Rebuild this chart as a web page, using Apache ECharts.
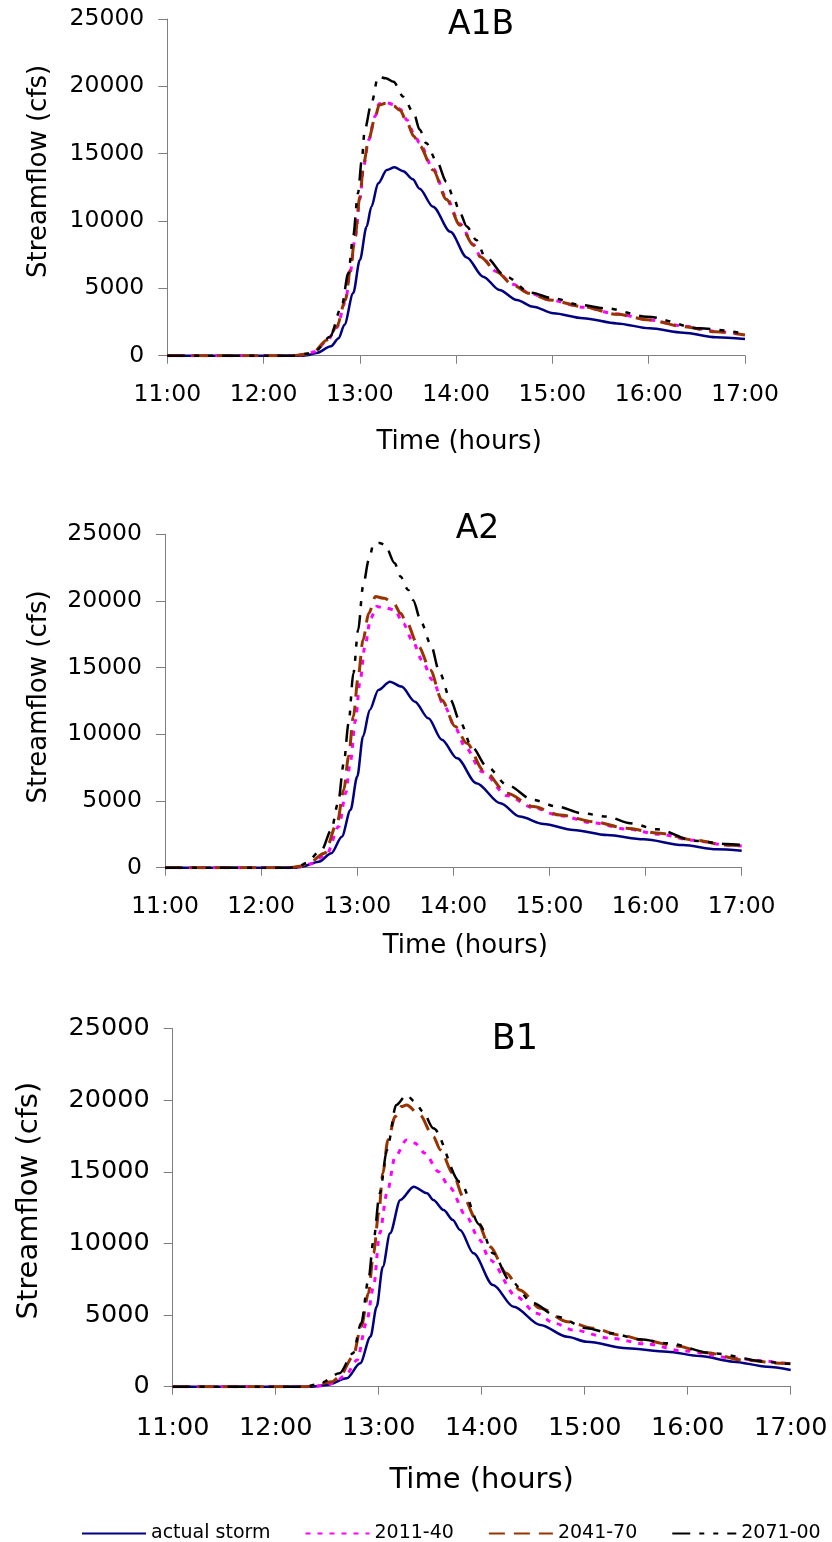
<!DOCTYPE html>
<html>
<head>
<meta charset="utf-8">
<script src="https://cdn.jsdelivr.net/npm/echarts@6/dist/echarts.min.js"></script>
<style>
html,body{margin:0;padding:0;background:#fff;}
#chart{width:832px;height:1542px;}
</style>
</head>
<body>
<div id="chart"></div>
<script>
// ---- data: [hour, streamflow cfs] ----
const seriesNames = ['actual storm', '2011-40', '2041-70', '2071-00'];
const panelTitles = ['A1B', 'A2', 'B1'];
const xTickHours = [11, 12, 13, 14, 15, 16, 17];
const yTicks = [0, 5000, 10000, 15000, 20000, 25000];

const a1b_actual = [[11,0],[12.4,0],[12.45,30],[12.55,200],[12.7,700],[12.78,1300],[12.84,2300],[12.93,4630],[13.0,7100],[13.07,9580],[13.12,11060],[13.19,12800],[13.28,13790],[13.36,13990],[13.45,13700],[13.55,13100],[13.62,12400],[13.76,11060],[13.94,9200],[14.11,7300],[14.28,5870],[14.45,4880],[14.63,4140],[14.8,3640],[15.01,3150],[15.32,2780],[15.67,2400],[16.01,2030],[16.36,1710],[16.7,1370],[17.0,1240]];
const a1b_2011 = [[11,0],[12.3,0],[12.45,100],[12.53,300],[12.66,1100],[12.76,2100],[12.85,4000],[12.9,6200],[12.95,8700],[13.0,11600],[13.04,14100],[13.09,16000],[13.16,17800],[13.2,18700],[13.27,18800],[13.35,18650],[13.42,18300],[13.49,17500],[13.56,16500],[13.62,15800],[13.76,13900],[13.9,11700],[14.04,9800],[14.18,8250],[14.25,7400],[14.42,6250],[14.59,5300],[14.76,4650],[14.97,4150],[15.32,3600],[15.67,3100],[16.01,2650],[16.36,2200],[16.7,1800],[17.0,1560]];
const a1b_2041 = [[11,0],[12.3,0],[12.45,120],[12.52,300],[12.66,1170],[12.76,2150],[12.85,4140],[12.9,6360],[12.95,8840],[13.0,11800],[13.04,14290],[13.09,16020],[13.16,17750],[13.2,18600],[13.27,18750],[13.35,18550],[13.42,18200],[13.49,17300],[13.56,16300],[13.62,15600],[13.76,13790],[13.9,11600],[14.04,9700],[14.18,8200],[14.25,7350],[14.42,6240],[14.59,5250],[14.76,4630],[14.97,4140],[15.32,3640],[15.67,3070],[16.01,2650],[16.36,2150],[16.7,1780],[17.0,1540]];
const a1b_2071 = [[11,0],[12.3,0],[12.45,150],[12.55,420],[12.69,1410],[12.81,3640],[12.88,6120],[12.93,8840],[12.98,12060],[13.02,14530],[13.05,16760],[13.12,18740],[13.19,20720],[13.27,20600],[13.35,20340],[13.45,19230],[13.56,18000],[13.62,16800],[13.69,15770],[13.8,14400],[13.9,12900],[13.97,11800],[14.04,10600],[14.11,9600],[14.21,8590],[14.3,7350],[14.52,5870],[14.77,4680],[15.01,4260],[15.29,3760],[15.56,3520],[15.98,2900],[16.53,2030],[16.98,1660]];

const a2_actual = [[11,0],[12.35,0],[12.42,75],[12.6,450],[12.73,1080],[12.84,2330],[12.93,4330],[13.0,6830],[13.06,9830],[13.13,11830],[13.22,13330],[13.34,13950],[13.46,13580],[13.6,12450],[13.74,11200],[13.88,9600],[14.04,8200],[14.24,6330],[14.49,4830],[14.69,3830],[14.94,3280],[15.25,2830],[15.6,2450],[15.98,2130],[16.39,1700],[16.74,1380],[17.0,1280]];
const a2_2011 = [[11,0],[12.3,0],[12.42,80],[12.52,300],[12.68,1000],[12.81,3100],[12.88,5600],[12.93,8000],[12.98,11000],[13.03,14000],[13.08,16600],[13.14,18700],[13.2,19580],[13.28,19500],[13.39,19330],[13.48,18300],[13.57,17080],[13.68,15500],[13.78,14080],[13.91,12080],[14.02,10500],[14.12,9080],[14.3,7200],[14.56,5400],[14.83,4500],[15.11,3900],[15.46,3350],[15.8,2900],[16.15,2500],[16.5,2050],[16.84,1700],[17.0,1620]];
const a2_2041 = [[11,0],[12.3,0],[12.4,100],[12.49,330],[12.66,1080],[12.79,3330],[12.86,5830],[12.91,8330],[12.96,11330],[13.01,14330],[13.06,17080],[13.12,19080],[13.19,20330],[13.28,20200],[13.38,19830],[13.45,19080],[13.5,18580],[13.64,16580],[13.76,14830],[13.88,12580],[14.02,10580],[14.14,9330],[14.31,7330],[14.56,5580],[14.83,4580],[15.11,3950],[15.46,3450],[15.8,2950],[16.15,2580],[16.5,2080],[16.84,1700],[17.0,1650]];
const a2_2071 = [[11,0],[12.3,0],[12.4,120],[12.46,330],[12.63,1330],[12.73,2830],[12.8,4830],[12.86,7830],[12.91,10830],[12.96,14580],[13.01,17830],[13.06,21080],[13.12,23080],[13.17,24280],[13.23,24350],[13.29,24200],[13.39,22830],[13.45,21830],[13.53,20830],[13.58,20080],[13.67,18330],[13.76,16830],[13.86,14580],[13.97,12580],[14.07,10950],[14.19,9080],[14.35,7580],[14.56,6200],[14.83,5080],[15.08,4580],[15.34,4080],[15.6,3830],[15.84,3330],[16.12,2880],[16.5,2030],[16.84,1780],[17.0,1700]];

const b1_actual = [[11,0],[12.35,0],[12.5,120],[12.69,590],[12.82,1630],[12.92,3490],[12.98,5580],[13.04,8380],[13.11,10710],[13.21,13030],[13.34,13960],[13.47,13500],[13.53,13030],[13.63,12330],[13.72,11640],[13.79,10940],[13.92,9310],[14.11,7100],[14.31,5580],[14.57,4310],[14.83,3490],[15.02,3140],[15.41,2680],[15.8,2440],[16.12,2140],[16.44,1750],[16.77,1400],[17.0,1170]];
const b1_2011 = [[11,0],[12.35,0],[12.45,60],[12.56,240],[12.68,800],[12.79,1860],[12.88,4420],[12.95,6980],[13.01,10710],[13.08,13500],[13.16,16050],[13.27,17220],[13.35,17000],[13.45,16290],[13.58,15010],[13.69,13900],[13.85,11900],[13.98,10240],[14.08,8840],[14.34,6280],[14.53,5120],[14.71,4420],[14.89,3960],[15.25,3380],[15.6,2980],[15.96,2490],[16.48,1980],[16.7,1820],[16.96,1630],[17.0,1600]];
const b1_2041 = [[11,0],[12.3,0],[12.4,150],[12.55,350],[12.62,700],[12.75,2090],[12.83,4190],[12.9,6520],[12.95,9310],[13.0,12100],[13.04,14890],[13.09,17220],[13.16,18850],[13.22,19550],[13.27,19660],[13.4,18960],[13.53,17450],[13.6,16520],[13.72,14890],[13.82,13260],[13.95,11640],[14.08,9770],[14.24,7920],[14.37,6750],[14.57,5470],[14.83,4540],[15.08,4080],[15.34,3610],[15.6,3210],[15.89,2840],[16.18,2370],[16.54,1860],[16.93,1630],[17.0,1600]];
const b1_2071 = [[11,0],[12.3,0],[12.43,240],[12.62,940],[12.75,2330],[12.83,4420],[12.9,7450],[12.95,10240],[13.01,13500],[13.08,16520],[13.17,19660],[13.27,20360],[13.35,19900],[13.43,19200],[13.53,18040],[13.79,14300],[13.98,11300],[14.11,9310],[14.27,7450],[14.5,5820],[14.73,4890],[15.02,4080],[15.25,3730],[15.54,3310],[15.8,3030],[16.25,2330],[16.77,1750],[16.93,1630],[17.0,1600]];

const panelData = [
  [a1b_actual, a1b_2011, a1b_2041, a1b_2071],
  [a2_actual, a2_2011, a2_2041, a2_2071],
  [b1_actual, b1_2011, b1_2041, b1_2071]
];

// ---- styles / layout ----
const FONT = 'DejaVu Sans';
const AXIS_COLOR = '#7f7f7f';
const lineStyles = [
  {color:'#000080', width:2.5, type:'solid'},
  {color:'#ff00ff', width:3, type:[5,7]},
  {color:'#993300', width:3, type:[16,9]},
  {color:'#000000', width:2.5, type:[18,9,5,9,5,9]}
];
const panels = [
  {grid:{left:167.3, top:19, width:577.7, height:336.7}, tick:23.5, name:26, nameGapY:115, padY:[0,0,0,32], nameGapX:74, padX:[0,0,0,6], labelMarginX:39, title:{x:481, y:9, size:33}},
  {grid:{left:165, top:534.3, width:576.7, height:333.4}, tick:23.5, name:26, nameGapY:113, padY:[0,0,0,8], nameGapX:66, padX:[0,0,0,24], labelMarginX:39, title:{x:477.5, y:513, size:33}},
  {grid:{left:172.7, top:1028.5, width:618, height:358.2}, tick:25.5, name:29, nameGapY:129, padY:[0,0,0,14], nameGapX:79, padX:[0,0,0,0], labelMarginX:42, title:{x:515, y:1022, size:35}}
];

const chart = echarts.init(document.getElementById('chart'), null, {renderer:'canvas'});

const grids = [], xAxes = [], yAxes = [], titles = [], series = [];
panels.forEach((p, i) => {
  grids.push(Object.assign({containLabel:false}, p.grid));
  titles.push({
    text: panelTitles[i], left: p.title.x, top: p.title.y, textAlign:'center', padding:0,
    textStyle:{fontFamily:FONT, fontSize:p.title.size, fontWeight:'normal', color:'#000'}
  });
  xAxes.push({
    type:'value', gridIndex:i, min:xTickHours[0], max:xTickHours[xTickHours.length-1], interval:1,
    axisLine:{show:true, onZero:false, lineStyle:{color:AXIS_COLOR, width:1}},
    axisTick:{show:true, length:8, lineStyle:{color:AXIS_COLOR}},
    splitLine:{show:false},
    axisLabel:{formatter:v => v + ':00', color:'#000', fontFamily:FONT, fontSize:p.tick, margin:p.labelMarginX, verticalAlign:'middle'},
    name:'Time (hours)', nameLocation:'middle', nameGap:p.nameGapX,
    nameTextStyle:{fontFamily:FONT, fontSize:p.name, color:'#000', padding:p.padX}
  });
  yAxes.push({
    type:'value', gridIndex:i, min:yTicks[0], max:yTicks[yTicks.length-1], interval:5000,
    axisLine:{show:true, lineStyle:{color:AXIS_COLOR, width:1}},
    axisTick:{show:true, length:9, lineStyle:{color:AXIS_COLOR}},
    splitLine:{show:false},
    axisLabel:{formatter:v => String(v), color:'#000', fontFamily:FONT, fontSize:p.tick, margin:23},
    name:'Streamflow (cfs)', nameLocation:'middle', nameGap:p.nameGapY,
    nameTextStyle:{fontFamily:FONT, fontSize:p.name, color:'#000', padding:p.padY}
  });
  panelData[i].forEach((d, k) => {
    series.push({
      name: seriesNames[k], type:'line', xAxisIndex:i, yAxisIndex:i,
      data: d, symbol:'none', showSymbol:false, smooth:0.3, smoothMonotone:'x',
      lineStyle: lineStyles[k], itemStyle:{color:lineStyles[k].color},
      animation:false, z: 2 + k
    });
  });
});

chart.setOption({
  backgroundColor:'#ffffff',
  animation:false,
  title: titles,
  grid: grids,
  xAxis: xAxes,
  yAxis: yAxes,
  legend: {
    data: seriesNames, left:76, top:1519, itemWidth:64, itemHeight:14, itemGap:34,
    itemStyle:{opacity:0},
    textStyle:{fontFamily:FONT, fontSize:19, color:'#000'}
  },
  series: series
});
</script>
</body>
</html>
